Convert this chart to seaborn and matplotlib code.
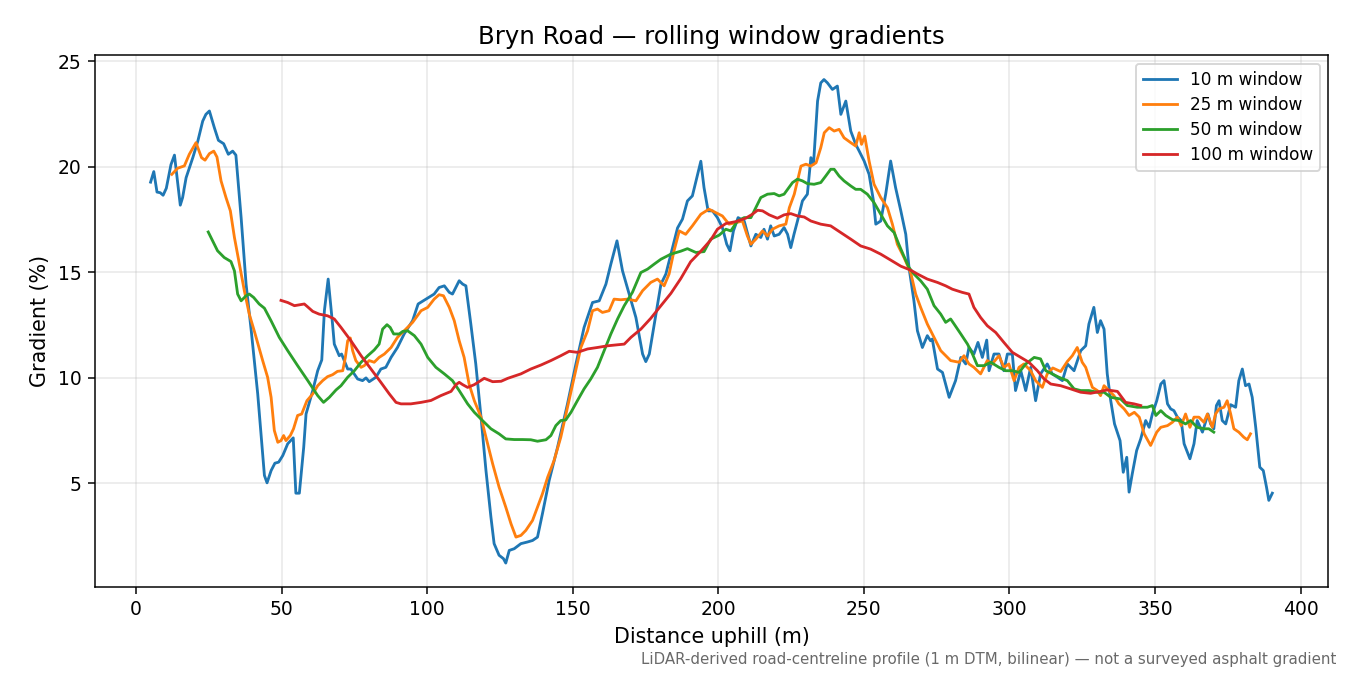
import matplotlib
matplotlib.use("Agg")
import matplotlib.pyplot as plt
import seaborn as sns

# ---- data (distance uphill m, gradient %) ----
dist_10 = [5.0, 6.1, 7.2, 8.3, 9.3, 10.4, 12.0, 13.2, 15.2, 16.0, 17.2, 19.5, 21.2, 22.9, 24.0, 25.2, 26.9, 28.3,
           30.1, 31.7, 33.2, 34.3, 36.1, 37.8, 39.6, 41.8, 44.1, 45.0, 46.4, 47.7, 49.0, 50.4, 52.1, 54.0, 54.9,
           56.1, 57.6, 58.4, 60.7, 62.4, 63.8, 64.7, 66.0, 67.5, 68.1, 69.8, 70.6, 72.7, 73.8, 76.1, 77.8, 79.0,
           80.1, 82.4, 84.1, 85.8, 87.6, 89.8, 92.1, 95.0, 96.9, 99.6, 102.4, 104.1, 105.9, 107.6, 108.7, 111.0,
           112.2, 113.3, 115.0, 116.7, 118.5, 120.2, 121.9, 123.0, 124.7, 126.2, 127.0, 128.2, 129.9, 132.2, 134.5,
           136.2, 137.9, 139.6, 141.9, 144.8, 148.2, 151.1, 153.9, 156.8, 159.1, 161.4, 163.1, 165.2, 167.1, 169.4,
           171.7, 174.0, 175.1, 176.3, 178.0, 180.3, 182.0, 184.3, 186.0, 187.7, 189.4, 191.1, 192.9, 194.0, 195.1,
           196.5, 198.0, 199.7, 201.4, 202.9, 204.0, 205.2, 206.8, 208.9, 211.2, 212.9, 214.6, 215.7, 216.9, 218.0,
           219.2, 220.9, 222.6, 223.8, 224.9, 226.0, 227.2, 228.9, 230.6, 231.8, 232.7, 234.1, 235.2, 236.3, 237.5,
           239.2, 240.9, 242.1, 243.8, 245.5, 247.2, 248.4, 250.1, 251.8, 253.3, 254.1, 255.8, 257.5, 259.2, 260.9,
           262.7, 264.4, 265.5, 267.2, 268.4, 270.1, 271.8, 272.9, 273.5, 275.3, 277.0, 279.3, 281.5, 283.3, 285.0,
           286.1, 287.8, 289.2, 290.7, 292.2, 293.0, 294.7, 296.4, 298.1, 299.3, 301.0, 302.1, 303.9, 305.6, 307.3,
           309.0, 310.7, 313.0, 314.7, 316.5, 318.2, 319.9, 322.2, 324.5, 326.2, 327.3, 329.0, 330.2, 331.3, 332.5,
           333.6, 334.8, 336.1, 338.0, 339.1, 340.3, 341.1, 342.2, 343.7, 345.1, 346.8, 348.0, 349.1, 350.6, 352.0,
           353.1, 354.3, 355.4, 356.5, 357.7, 359.0, 360.0, 362.0, 363.4, 364.5, 366.3, 368.2, 369.1, 370.2, 371.1,
           372.0, 373.1, 374.3, 376.0, 377.7, 378.8, 380.0, 381.1, 382.3, 383.4, 384.6, 386.0, 387.2, 388.3, 389.1,
           390.3]
grad_10 = [19.27, 19.77, 18.8, 18.77, 18.65, 18.98, 20.1, 20.55, 18.18, 18.54, 19.48, 20.43, 21.2, 22.16, 22.48,
           22.64, 21.85, 21.25, 21.09, 20.59, 20.74, 20.55, 17.59, 14.44, 12.2, 9.24, 5.38, 5.03, 5.61, 5.96, 6.01,
           6.32, 6.88, 7.16, 4.54, 4.54, 6.72, 8.29, 9.4, 10.34, 10.85, 13.18, 14.68, 12.55, 11.6, 11.05, 11.13,
           10.42, 10.42, 9.95, 9.87, 10.0, 9.82, 10.03, 10.42, 10.5, 10.97, 11.44, 12.08, 12.71, 13.5, 13.73, 13.97,
           14.28, 14.36, 14.05, 13.97, 14.6, 14.44, 14.36, 12.55, 10.66, 8.14, 5.61, 3.41, 2.15, 1.6, 1.44, 1.23,
           1.83, 1.91, 2.15, 2.23, 2.3, 2.46, 3.57, 5.14, 6.72, 8.77, 10.66, 12.39, 13.57, 13.65, 14.44, 15.39,
           16.49, 15.07, 13.97, 12.86, 11.13, 10.77, 11.13, 12.55, 14.44, 14.92, 16.17, 17.1, 17.52, 18.38, 18.62,
           19.64, 20.26, 19.01, 17.91, 17.91, 17.59, 17.12, 16.33, 16.02, 16.96, 17.59, 17.43, 16.25, 16.8, 16.65,
           17.04, 16.57, 17.2, 16.72, 16.8, 17.12, 16.8, 16.17, 16.8, 17.43, 18.38, 18.7, 20.43, 20.12, 23.11,
           23.97, 24.13, 23.97, 23.66, 23.82, 22.48, 23.11, 21.69, 21.06, 20.74, 20.27, 19.64, 18.38, 17.28, 17.43,
           18.7, 20.27, 19.01, 17.91, 16.8, 15.23, 13.65, 12.23, 11.44, 12.0, 11.76, 11.84, 10.42, 10.26, 9.08,
           9.87, 10.97, 10.66, 11.44, 11.13, 11.68, 10.97, 11.79, 10.34, 11.13, 11.13, 10.34, 11.13, 11.13, 9.4,
           10.34, 9.4, 10.5, 8.92, 10.19, 10.66, 10.19, 10.03, 9.87, 10.66, 10.34, 11.29, 11.52, 12.55, 13.34,
           12.15, 12.71, 12.31, 10.19, 8.92, 7.82, 7.03, 5.53, 6.24, 4.59, 5.46, 6.56, 7.11, 7.98, 7.66, 8.29, 8.92,
           9.71, 9.87, 8.77, 8.53, 8.45, 8.14, 7.98, 6.88, 6.17, 6.88, 7.98, 7.43, 8.29, 7.82, 7.59, 8.69, 8.92,
           7.98, 7.82, 8.73, 8.61, 9.87, 10.42, 9.63, 9.71, 9.08, 7.66, 5.77, 5.61, 4.83, 4.2, 4.54]

dist_25 = [12.3, 14.3, 16.6, 18.3, 20.6, 22.5, 23.7, 25.2, 26.7, 27.8, 29.2, 30.9, 32.4, 33.8, 35.5, 37.2, 38.9,
           40.6, 43.5, 45.2, 46.4, 47.5, 48.7, 49.8, 50.7, 51.5, 53.0, 54.1, 55.5, 56.9, 58.7, 60.7, 62.4, 64.1,
           65.8, 67.5, 69.2, 71.0, 71.9, 72.7, 73.6, 74.4, 75.5, 77.3, 78.4, 80.1, 81.8, 83.5, 85.3, 87.6, 89.8,
           92.1, 95.0, 97.9, 100.2, 102.4, 104.1, 105.6, 107.6, 109.3, 111.0, 112.7, 114.4, 116.2, 118.5, 120.2,
           122.5, 124.7, 127.0, 128.8, 130.5, 132.2, 133.9, 136.2, 137.9, 139.6, 141.4, 143.6, 145.9, 148.2, 150.5,
           152.8, 155.1, 156.8, 158.5, 160.2, 162.5, 164.2, 166.5, 168.8, 171.7, 174.0, 176.8, 179.1, 181.4, 183.1,
           184.8, 186.6, 188.8, 191.1, 194.0, 196.8, 199.1, 201.4, 203.7, 206.0, 208.3, 210.0, 211.2, 212.9, 215.2,
           216.9, 218.6, 220.9, 223.2, 224.4, 226.1, 228.4, 230.1, 231.8, 233.6, 235.2, 236.4, 238.1, 239.8, 241.5,
           243.2, 245.5, 247.2, 248.4, 249.2, 250.3, 251.8, 253.5, 255.8, 258.1, 259.8, 261.5, 263.8, 266.1, 267.8,
           269.5, 271.8, 274.1, 276.4, 279.8, 282.7, 284.4, 286.1, 287.8, 290.1, 292.4, 294.1, 296.4, 298.1, 299.8,
           301.6, 303.3, 305.0, 307.3, 309.0, 311.3, 313.0, 314.9, 317.6, 319.9, 321.6, 323.3, 325.0, 326.2, 327.3,
           328.5, 330.2, 331.3, 332.5, 334.2, 335.9, 337.6, 339.4, 341.1, 342.9, 344.6, 346.3, 348.5, 350.6, 352.0,
           354.3, 356.0, 357.7, 359.0, 360.5, 362.0, 363.4, 365.1, 366.8, 368.0, 369.7, 370.8, 372.0, 373.7, 374.8,
           376.0, 377.1, 378.8, 380.5, 381.7, 382.8]
grad_25 = [19.64, 19.93, 20.04, 20.59, 21.14, 20.43, 20.31, 20.62, 20.74, 20.46, 19.33, 18.54, 17.91, 16.65, 15.39,
           14.13, 13.02, 12.23, 10.82, 10.03, 9.08, 7.51, 6.95, 7.03, 7.27, 7.03, 7.27, 7.59, 8.22, 8.29, 8.92, 9.24,
           9.63, 9.87, 10.06, 10.15, 10.31, 10.34, 10.97, 11.76, 11.89, 11.29, 10.82, 10.5, 10.58, 10.82, 10.74,
           10.97, 11.13, 11.44, 11.92, 12.23, 12.63, 13.18, 13.34, 13.73, 13.94, 13.89, 13.34, 12.71, 11.76, 10.97,
           9.71, 8.92, 8.14, 7.19, 5.93, 4.83, 3.88, 3.09, 2.46, 2.54, 2.78, 3.25, 3.88, 4.51, 5.3, 6.09, 7.19, 8.61,
           10.03, 11.44, 12.23, 13.18, 13.26, 13.1, 13.18, 13.73, 13.7, 13.73, 13.65, 14.13, 14.52, 14.68, 14.36,
           14.92, 16.02, 16.96, 16.8, 17.2, 17.75, 17.99, 17.83, 17.67, 17.28, 17.35, 17.43, 16.72, 16.33, 16.57,
           16.96, 16.72, 17.04, 17.2, 17.28, 18.06, 18.7, 20.03, 20.12, 20.03, 20.19, 20.9, 21.61, 21.85, 21.69,
           21.77, 21.37, 21.14, 20.98, 21.61, 21.06, 21.45, 20.27, 19.17, 18.54, 18.06, 17.28, 16.33, 15.7, 14.98,
           13.97, 13.34, 12.55, 11.92, 11.29, 10.82, 10.74, 11.05, 10.66, 10.5, 10.19, 10.82, 10.66, 11.05, 10.5,
           10.66, 9.87, 10.5, 10.66, 10.34, 9.87, 9.55, 10.19, 10.47, 10.3, 10.78, 11.05, 11.44, 10.74, 10.5, 10.03,
           9.55, 9.4, 9.16, 9.63, 9.4, 9.16, 8.77, 8.53, 8.22, 8.37, 8.14, 7.35, 6.8, 7.43, 7.66, 7.74, 7.9, 8.14,
           7.74, 8.29, 7.66, 8.14, 8.14, 7.9, 8.29, 7.66, 8.29, 8.53, 8.61, 8.92, 8.29, 7.59, 7.43, 7.19, 7.07, 7.35]

dist_50 = [24.8, 26.3, 28.0, 30.3, 32.6, 33.8, 34.9, 36.1, 37.8, 38.9, 40.4, 42.3, 44.1, 46.4, 49.2, 52.1, 55.5,
           59.0, 62.4, 64.4, 66.4, 68.7, 70.4, 72.7, 75.0, 77.3, 79.6, 81.8, 83.5, 84.7, 86.2, 87.3, 88.5, 90.4,
           91.6, 93.3, 95.6, 97.9, 100.2, 103.0, 105.9, 108.7, 111.0, 113.9, 116.2, 119.0, 121.9, 124.7, 127.0,
           129.9, 132.7, 135.6, 137.9, 140.8, 142.5, 144.2, 145.9, 147.6, 149.4, 151.6, 153.9, 156.2, 158.5, 160.8,
           163.1, 165.4, 167.7, 170.5, 173.4, 175.7, 178.0, 180.3, 183.7, 187.1, 189.4, 192.3, 195.1, 197.4, 200.3,
           202.6, 204.3, 206.6, 208.9, 211.2, 212.9, 214.6, 216.9, 219.2, 220.9, 222.6, 223.8, 225.5, 227.2, 228.9,
           230.6, 232.9, 235.2, 236.9, 238.6, 239.8, 241.5, 243.2, 245.5, 247.2, 248.9, 251.2, 253.5, 255.8, 258.1,
           260.4, 262.1, 263.8, 265.5, 267.2, 269.5, 271.8, 274.1, 276.4, 278.1, 279.8, 281.0, 283.3, 285.6, 287.3,
           289.0, 291.3, 293.6, 296.4, 298.7, 301.0, 303.3, 305.6, 308.5, 310.7, 312.5, 314.7, 317.0, 319.9, 322.2,
           324.5, 327.3, 330.2, 332.5, 334.8, 338.2, 340.5, 343.9, 347.4, 349.1, 350.3, 352.0, 353.7, 356.0, 358.3,
           360.5, 362.2, 364.5, 366.8, 368.5, 370.2]
grad_50 = [16.91, 16.49, 16.02, 15.7, 15.51, 15.07, 13.97, 13.65, 13.89, 13.97, 13.81, 13.5, 13.3, 12.7, 11.92,
           11.29, 10.58, 9.87, 9.16, 8.84, 9.08, 9.43, 9.63, 10.03, 10.34, 10.74, 11.05, 11.32, 11.6, 12.31, 12.52,
           12.39, 12.08, 12.08, 12.2, 12.23, 12.0, 11.6, 10.97, 10.5, 10.19, 9.87, 9.4, 8.77, 8.37, 7.98, 7.59, 7.35,
           7.11, 7.08, 7.08, 7.07, 7.0, 7.07, 7.27, 7.74, 7.98, 8.01, 8.37, 8.92, 9.48, 9.95, 10.5, 11.29, 12.08,
           12.79, 13.42, 14.05, 14.99, 15.15, 15.39, 15.62, 15.86, 16.0, 16.12, 15.94, 15.98, 16.57, 16.76, 17.04,
           16.96, 17.43, 17.59, 17.59, 18.06, 18.54, 18.7, 18.73, 18.62, 18.7, 18.93, 19.25, 19.41, 19.33, 19.2,
           19.17, 19.25, 19.56, 19.88, 19.88, 19.56, 19.33, 19.09, 18.93, 18.93, 18.7, 18.3, 17.75, 17.2, 16.88,
           16.3, 15.75, 15.23, 14.92, 14.6, 14.2, 13.42, 13.02, 12.63, 12.79, 12.55, 12.08, 11.6, 11.13, 10.58,
           10.58, 10.74, 10.5, 10.34, 10.34, 10.26, 10.66, 10.97, 10.9, 10.34, 10.19, 10.03, 9.87, 9.48, 9.4, 9.4,
           9.32, 9.32, 9.08, 9.0, 8.69, 8.61, 8.61, 8.69, 8.22, 8.45, 8.22, 8.02, 7.98, 7.82, 7.98, 7.66, 7.59, 7.59,
           7.43]

dist_100 = [49.8, 52.1, 54.4, 56.1, 57.8, 58.9, 60.7, 62.9, 65.8, 68.1, 70.4, 73.8, 77.3, 80.7, 84.1, 87.0, 89.3,
            91.0, 94.4, 97.9, 101.3, 104.7, 108.2, 109.9, 111.0, 112.2, 113.9, 116.2, 119.6, 122.5, 125.4, 127.7,
            132.2, 135.6, 139.1, 142.5, 145.9, 148.8, 151.6, 155.1, 158.5, 162.0, 164.8, 167.7, 170.0, 173.4, 176.8,
            180.3, 183.7, 187.1, 190.5, 194.0, 197.4, 199.7, 202.6, 206.0, 209.4, 211.7, 213.5, 215.2, 217.5, 220.3,
            222.6, 224.9, 227.2, 229.5, 231.8, 235.2, 238.6, 242.1, 245.5, 248.9, 252.3, 255.8, 259.2, 262.7, 266.1,
            268.4, 271.8, 275.3, 278.1, 280.4, 283.8, 286.1, 287.8, 290.1, 292.4, 295.3, 298.1, 301.0, 303.9, 306.7,
            309.6, 311.9, 314.2, 317.6, 321.0, 324.5, 327.9, 331.3, 333.6, 337.1, 339.9, 342.8, 345.1]
grad_100 = [13.67, 13.57, 13.42, 13.46, 13.5, 13.37, 13.15, 13.02, 12.94, 12.79, 12.39, 11.76, 11.05, 10.42, 9.79,
            9.24, 8.84, 8.77, 8.77, 8.84, 8.93, 9.16, 9.36, 9.68, 9.79, 9.68, 9.55, 9.68, 9.98, 9.82, 9.84, 9.98,
            10.19, 10.42, 10.61, 10.82, 11.05, 11.26, 11.21, 11.37, 11.44, 11.52, 11.56, 11.6, 11.92, 12.31, 12.82,
            13.42, 14.0, 14.7, 15.5, 16.0, 16.53, 17.04, 17.31, 17.4, 17.56, 17.75, 17.94, 17.91, 17.72, 17.56, 17.72,
            17.78, 17.67, 17.62, 17.43, 17.28, 17.2, 16.88, 16.57, 16.25, 16.1, 15.86, 15.58, 15.29, 15.1, 14.92,
            14.68, 14.52, 14.36, 14.2, 14.05, 13.97, 13.34, 12.86, 12.47, 12.15, 11.68, 11.21, 10.97, 10.74, 10.34,
            9.95, 9.71, 9.63, 9.48, 9.32, 9.27, 9.36, 9.43, 9.36, 8.84, 8.77, 8.69]

labels = ["10 m window", "25 m window", "50 m window", "100 m window"]
colors = ["#1f77b4", "#ff7f0e", "#2ca02c", "#d62728"]

#=====PLOT=====
fig, ax = plt.subplots(figsize=(10, 5), dpi=135)
series = [(dist_10, grad_10), (dist_25, grad_25), (dist_50, grad_50), (dist_100, grad_100)]
for (xs, ys), lab, col in zip(series, labels, colors):
    sns.lineplot(x=xs, y=ys, ax=ax, color=col, label=lab, linewidth=1.5, estimator=None)

ax.grid(True, alpha=0.3)
ax.tick_params(labelsize=10)
ax.set_title("Bryn Road — rolling window gradients", fontsize=13)
ax.set_xlabel("Distance uphill (m)", fontsize=11)
ax.set_ylabel("Gradient (%)", fontsize=11)
ax.legend(loc="upper right", fontsize=9, labelspacing=0.42)
fig.text(0.99, 0.012, "LiDAR-derived road-centreline profile (1 m DTM, bilinear) — not a surveyed asphalt gradient",
         ha="right", va="bottom", fontsize=8, color="dimgray")
fig.subplots_adjust(left=0.07, right=0.984, top=0.918, bottom=0.13)
fig.savefig("out.png", dpi=135)
